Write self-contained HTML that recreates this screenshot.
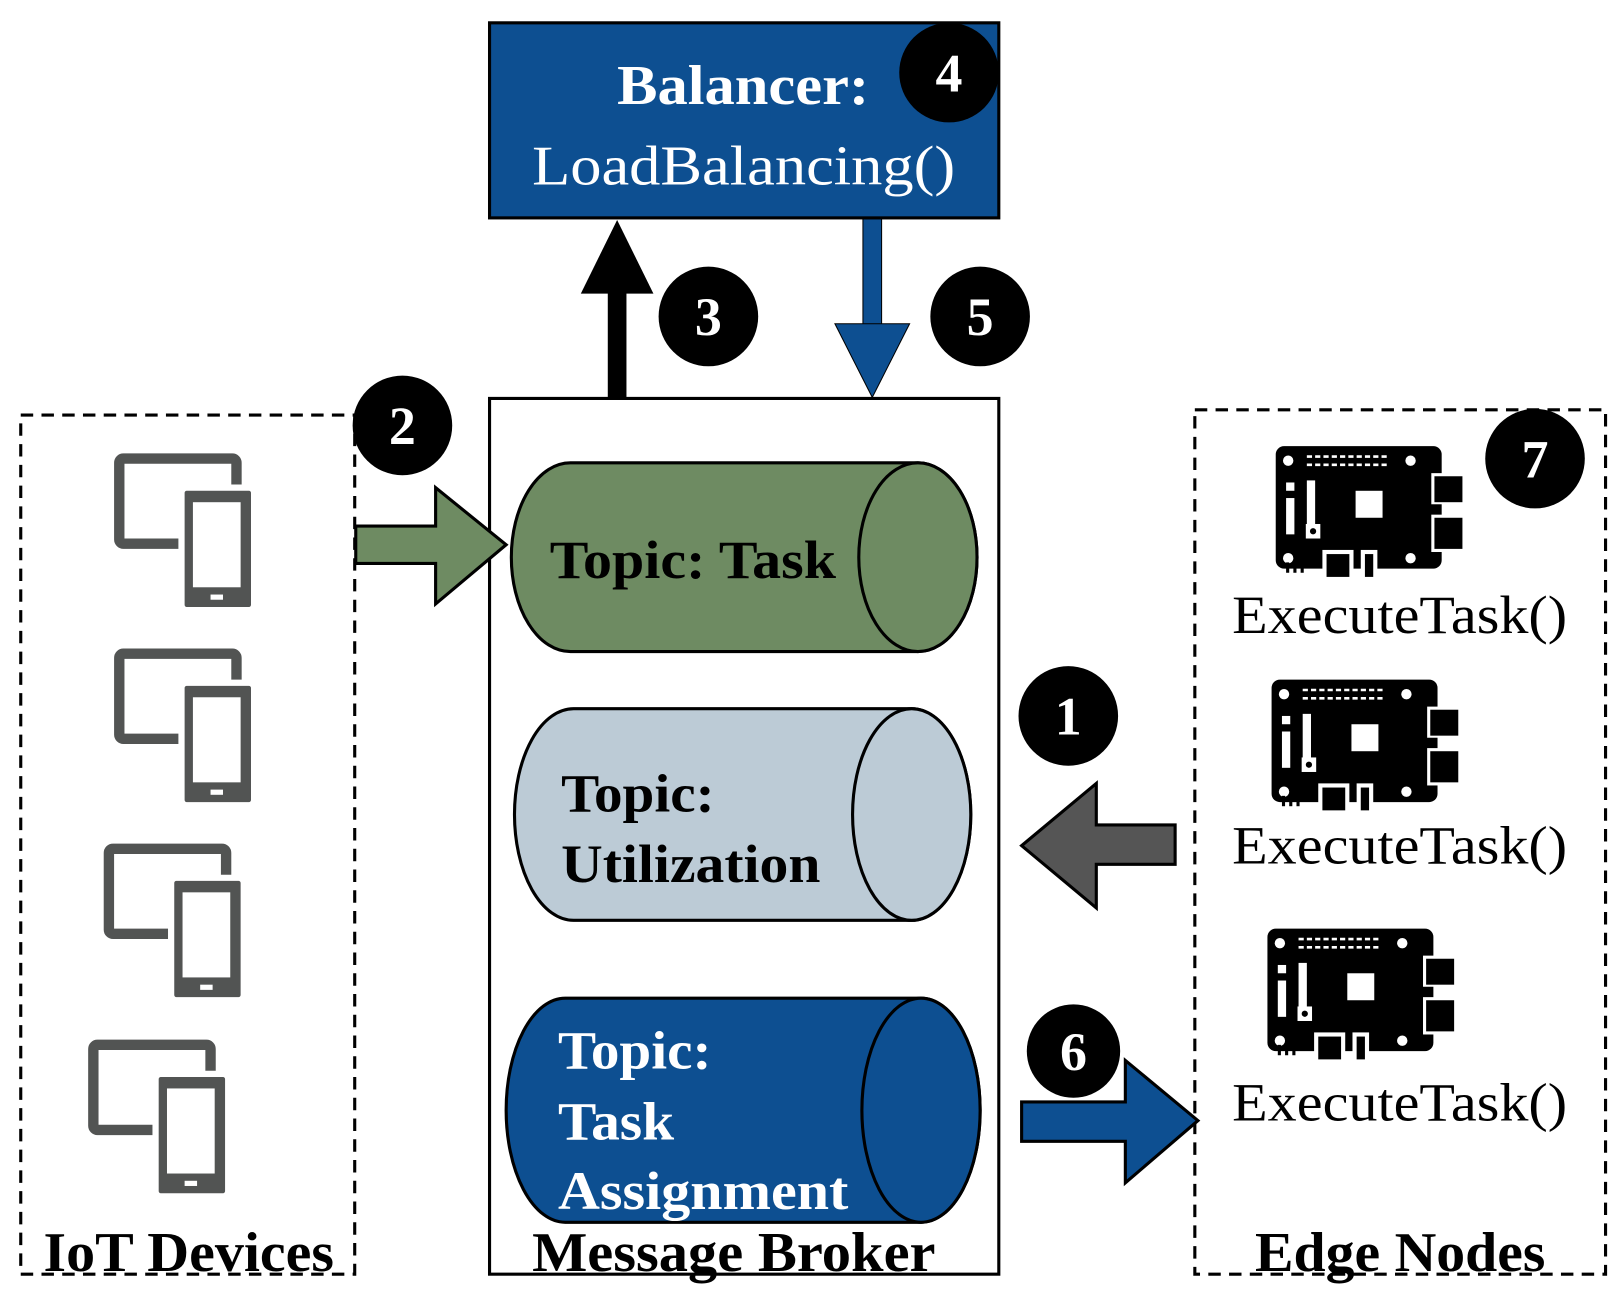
<!DOCTYPE html>
<html><head><meta charset="utf-8"><style>html,body{margin:0;padding:0;background:#fff}svg{display:block}</style></head>
<body>
<svg width="1618" height="1297" viewBox="0 0 1560 1250" preserveAspectRatio="none" xmlns="http://www.w3.org/2000/svg" font-family="Liberation Serif, serif">
<defs>
<g id="dev">
  <rect x="5" y="5" width="113" height="82" rx="4" fill="none" stroke="#525453" stroke-width="10"/>
  <rect x="65" y="33" width="70" height="118" rx="5" fill="#525453" stroke="#fff" stroke-width="6"/>
  <rect x="76" y="47" width="46" height="82" fill="#fff"/>
  <rect x="93" y="136" width="12" height="5" fill="#fff"/>
</g>
<g id="board">
  <rect x="0" y="0" width="160" height="118" rx="8" fill="#000"/>
  <rect x="150" y="26" width="30" height="30" fill="#fff"/>
  <rect x="153" y="29" width="27" height="25" fill="#000"/>
  <rect x="150" y="66" width="30" height="36" fill="#fff"/>
  <rect x="153" y="69" width="27" height="30" fill="#000"/>
  <circle cx="12" cy="14" r="5" fill="#fff"/><circle cx="130" cy="14" r="5" fill="#fff"/>
  <circle cx="12" cy="108" r="5" fill="#fff"/><circle cx="130" cy="108" r="5" fill="#fff"/>
  <path d="M30 10h80M30 18h80" stroke="#fff" stroke-width="2.5" stroke-dasharray="5 3"/>
  <rect x="10" y="35" width="8" height="8" fill="#fff"/>
  <rect x="10" y="50" width="8" height="35" fill="#fff"/>
  <rect x="30" y="33" width="8" height="45" fill="#fff"/>
  <rect x="29" y="75" width="14" height="14" fill="#fff"/><circle cx="36" cy="82" r="3" fill="#000"/>
  <rect x="77" y="43" width="26" height="26" fill="#fff"/>
  <rect x="45" y="100" width="30" height="20" fill="#fff"/><rect x="49" y="104" width="22" height="22" fill="#000"/>
  <rect x="82" y="100" width="16" height="20" fill="#fff"/><rect x="86" y="104" width="8" height="22" fill="#000"/>
  <rect x="10" y="112" width="3" height="10" fill="#000"/><rect x="17" y="112" width="3" height="10" fill="#000"/><rect x="24" y="112" width="3" height="10" fill="#000"/>
</g>
</defs>

<rect x="472" y="22" width="491" height="188" fill="#0d4f91" stroke="#000" stroke-width="3"/>
<text x="595" y="100" font-size="54" font-weight="bold" fill="#fff" textLength="243" lengthAdjust="spacingAndGlyphs">Balancer:</text>
<text x="513" y="178" font-size="54" fill="#fff" textLength="408" lengthAdjust="spacingAndGlyphs">LoadBalancing()</text>

<rect x="586" y="278" width="18" height="106" fill="#000"/>
<polygon points="560,283 630,283 595,212" fill="#000"/>
<rect x="832" y="211" width="18" height="102" fill="#0d4f91" stroke="#000" stroke-width="1"/>
<polygon points="805,312 877,312 841,383" fill="#0d4f91" stroke="#000" stroke-width="1"/>

<rect x="472" y="384" width="491" height="844" fill="none" stroke="#000" stroke-width="3"/>
<path d="M550,446 H885 A57,91 0 0 1 885,628 H550 A57,91 0 0 1 550,446 Z" fill="#6e8b62" stroke="#000" stroke-width="3"/>
<ellipse cx="885" cy="537" rx="57" ry="91" fill="#6e8b62" stroke="#000" stroke-width="3"/>
<text x="530" y="557" font-size="52" font-weight="bold" fill="#000" textLength="276" lengthAdjust="spacingAndGlyphs">Topic: Task</text>
<path d="M553,683 H879 A57,102 0 0 1 879,887 H553 A57,102 0 0 1 553,683 Z" fill="#bccbd6" stroke="#000" stroke-width="3"/>
<ellipse cx="879" cy="785" rx="57" ry="102" fill="#bccbd6" stroke="#000" stroke-width="3"/>
<text x="541" y="782" font-size="52" font-weight="bold" fill="#000" textLength="148" lengthAdjust="spacingAndGlyphs">Topic:</text>
<text x="541" y="850" font-size="52" font-weight="bold" fill="#000" textLength="250" lengthAdjust="spacingAndGlyphs">Utilization</text>
<path d="M545,962 H888 A57,108 0 0 1 888,1178 H545 A57,108 0 0 1 545,962 Z" fill="#0d4f91" stroke="#000" stroke-width="3"/>
<ellipse cx="888" cy="1070" rx="57" ry="108" fill="#0d4f91" stroke="#000" stroke-width="3"/>
<text x="538" y="1030" font-size="52" font-weight="bold" fill="#fff" textLength="148" lengthAdjust="spacingAndGlyphs">Topic:</text>
<text x="538" y="1098" font-size="52" font-weight="bold" fill="#fff" textLength="112" lengthAdjust="spacingAndGlyphs">Task</text>
<text x="538" y="1165" font-size="52" font-weight="bold" fill="#fff" textLength="280" lengthAdjust="spacingAndGlyphs">Assignment</text>
<text x="513" y="1225" font-size="54" font-weight="bold" fill="#000" textLength="389" lengthAdjust="spacingAndGlyphs">Message Broker</text>

<rect x="20" y="400" width="322" height="828" fill="none" stroke="#000" stroke-width="3" stroke-dasharray="12 8"/>
<use href="#dev" x="110" y="437"/>
<use href="#dev" x="110" y="625"/>
<use href="#dev" x="100" y="813"/>
<use href="#dev" x="85" y="1002"/>
<text x="42" y="1225" font-size="54" font-weight="bold" fill="#000" textLength="280" lengthAdjust="spacingAndGlyphs">IoT Devices</text>
<polygon points="343,507 420,507 420,470 488,525 420,582 420,543 343,543" fill="#6e8b62" stroke="#000" stroke-width="3"/>

<rect x="1152" y="395" width="396" height="833" fill="none" stroke="#000" stroke-width="3" stroke-dasharray="12 8"/>
<use href="#board" x="1230" y="430"/>
<use href="#board" x="1226" y="655"/>
<use href="#board" x="1222" y="895"/>
<text x="1188" y="610" font-size="52" fill="#000" textLength="323" lengthAdjust="spacingAndGlyphs">ExecuteTask()</text>
<text x="1188" y="832" font-size="52" fill="#000" textLength="323" lengthAdjust="spacingAndGlyphs">ExecuteTask()</text>
<text x="1188" y="1080" font-size="52" fill="#000" textLength="323" lengthAdjust="spacingAndGlyphs">ExecuteTask()</text>
<text x="1210" y="1225" font-size="54" font-weight="bold" fill="#000" textLength="280" lengthAdjust="spacingAndGlyphs">Edge Nodes</text>

<polygon points="1133,795 1057,795 1057,755 985,815 1057,875 1057,833 1133,833" fill="#555" stroke="#000" stroke-width="3"/>
<polygon points="985,1062 1085,1062 1085,1022 1155,1080 1085,1140 1085,1100 985,1100" fill="#0d4f91" stroke="#000" stroke-width="3"/>

<g font-weight="bold" font-size="52" fill="#fff" text-anchor="middle">
<circle cx="915" cy="70" r="48" fill="#000"/><text x="915" y="88">4</text>
<circle cx="683" cy="305" r="48" fill="#000"/><text x="683" y="323">3</text>
<circle cx="945" cy="305" r="48" fill="#000"/><text x="945" y="323">5</text>
<circle cx="388" cy="410" r="48" fill="#000"/><text x="388" y="428">2</text>
<circle cx="1480" cy="442" r="48" fill="#000"/><text x="1480" y="460">7</text>
<circle cx="1030" cy="690" r="48" fill="#000"/><text x="1030" y="708">1</text>
<circle cx="1035" cy="1013" r="45" fill="#000"/><text x="1035" y="1031">6</text>
</g>
</svg>
</body></html>
